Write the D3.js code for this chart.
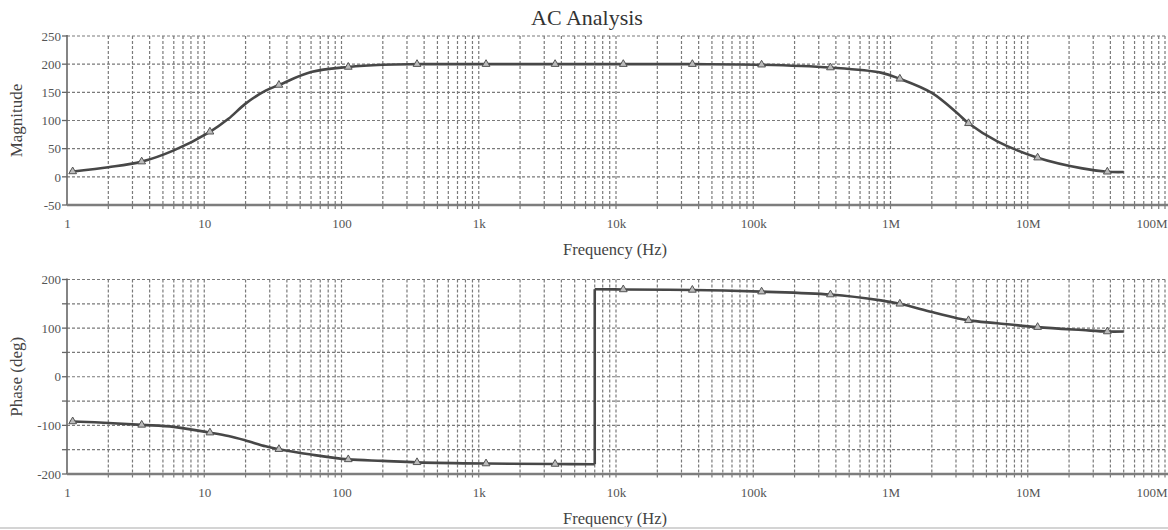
<!DOCTYPE html>
<html>
<head>
<meta charset="utf-8">
<script src="https://cdn.jsdelivr.net/npm/d3@7"></script>
<style>
  html, body { margin: 0; padding: 0; background: #fff; }
  svg { display: block; }
  text { font-family: "Liberation Serif", "DejaVu Serif", serif; }
</style>
</head>
<body>
<svg id="chart" width="1168" height="530"></svg>
<script>
// ---------------- data ----------------
const chartTitle = "AC Analysis";
const freqHz = [1.05, 1.1, 2, 3.5, 6, 11, 15, 20, 28, 35, 60, 112, 200, 355, 1130, 3600, 7000, 7000,
  11300, 36000, 115000, 365000, 850000, 1170000, 2000000, 3100000, 3700000, 6000000, 11800000,
  25000000, 38000000, 50000000];
const magnitude = [9, 9.5, 17, 27, 47, 80, 103, 130, 153, 163, 186, 195, 199, 200, 200, 200, 200, 200,
  200, 200, 199, 194, 185, 174, 149, 112, 95, 63, 34, 15, 9, 8.5];
const phaseDeg = [-92, -92, -95, -99, -103, -115, -122, -131, -143, -149, -160, -170, -173, -176, -178.5, -179.5, -180, 180,
  179.5, 178.5, 175, 169, 157, 150, 133, 120, 116, 110, 102, 96, 93, 93];
const markerFreqs = [1.1, 3.5, 11, 35, 112, 355, 1130, 3600, 11300, 36000, 115000, 365000, 1170000, 3700000, 11800000, 38000000];
const xTickValues = [1, 10, 100, 1e3, 1e4, 1e5, 1e6, 1e7, 1e8];
const xTickLabels = ["1", "10", "100", "1k", "10k", "100k", "1M", "10M", "100M"];
const magTicks = [-50, 0, 50, 100, 150, 200, 250];
const magGrid = [-50, 0, 50, 100, 150, 200, 250];
const phaseTicks = [-200, -100, 0, 100, 200];
const phaseGrid = [-200, -150, -100, -50, 0, 50, 100, 150, 200];
const xLabel = "Frequency (Hz)";
const magLabel = "Magnitude";
const phaseLabel = "Phase (deg)";

// ---------------- drawing ----------------
const svg = d3.select("#chart");
svg.append("rect").attr("width", 1168).attr("height", 530).attr("fill", "#fff");

const x = d3.scaleLog().domain([1, 1e8]).range([67, 1165]);

// minor grid frequencies: 1..9 x each decade
const vGrid = [];
for (let d = 0; d < 8; d++) for (let m = 1; m <= 9; m++) vGrid.push(m * Math.pow(10, d));
vGrid.push(1e8);

svg.append("text").attr("x", 587).attr("y", 25).attr("text-anchor", "middle")
  .attr("font-size", 22).attr("fill", "#333").text(chartTitle);

function panel(cfg) {
  const y = d3.scaleLinear().domain(cfg.domain).range(cfg.range);
  const g = svg.append("g");
  const top = cfg.range[1], bot = cfg.range[0];

  // horizontal grid
  g.selectAll(".hg").data(cfg.grid).join("line")
    .attr("x1", 67).attr("x2", 1165)
    .attr("y1", d => y(d)).attr("y2", d => y(d))
    .attr("stroke", "#7a7a7a").attr("stroke-width", 1.2).attr("stroke-dasharray", "3,2");
  // vertical grid
  g.selectAll(".vg").data(vGrid.filter(v => v > 1)).join("line")
    .attr("x1", d => x(d)).attr("x2", d => x(d))
    .attr("y1", top).attr("y2", bot + 4)
    .attr("stroke", "#7a7a7a").attr("stroke-width", 1.2).attr("stroke-dasharray", "3,2");

  // left axis
  const ya = d3.axisLeft(y).tickValues(cfg.ticks).tickFormat(d => String(d)).tickSize(0).tickPadding(6);
  const yg = g.append("g").attr("transform", "translate(67,0)").call(ya);
  yg.select(".domain").remove();
  yg.selectAll("text").attr("font-family", "Liberation Serif").attr("font-size", 13).attr("fill", "#555");
  g.selectAll(".lt").data(cfg.grid).join("line")
    .attr("x1", 62).attr("x2", 67).attr("y1", d => y(d)).attr("y2", d => y(d))
    .attr("stroke", "#666").attr("stroke-width", 1.3);
  g.append("line").attr("x1", 67).attr("x2", 67).attr("y1", top - 1).attr("y2", bot)
    .attr("stroke", "#666").attr("stroke-width", 1.6);

  // bottom axis
  const xa = d3.axisBottom(x).tickValues(xTickValues)
    .tickFormat((d, i) => xTickLabels[i]).tickSize(0).tickPadding(14);
  const xg = g.append("g").attr("transform", `translate(0,${bot})`).call(xa);
  xg.select(".domain").remove();
  xg.selectAll("text").attr("font-family", "Liberation Serif").attr("font-size", 13).attr("fill", "#555");
  xg.selectAll("text").filter(d => d === 1e8).attr("text-anchor", "end").attr("dx", 2);
  g.append("line").attr("x1", 67).attr("x2", 1168).attr("y1", bot).attr("y2", bot)
    .attr("stroke", "#7d7d7d").attr("stroke-width", 2.4);

  // axis titles
  svg.append("text").attr("x", 615).attr("y", bot + 50).attr("text-anchor", "middle")
    .attr("font-size", 16.5).attr("fill", "#444").text(xLabel);
  svg.append("text").attr("transform", `translate(${cfg.labelX},${(top + bot) / 2}) rotate(-90)`)
    .attr("text-anchor", "middle").attr("font-size", 17).attr("fill", "#444").text(cfg.label);

  // curve: split where frequency repeats (vertical jump)
  const pts = freqHz.map((f, i) => ({ f, v: cfg.values[i] }));
  const segs = [[pts[0]]];
  for (let i = 1; i < pts.length; i++) {
    if (pts[i].f === pts[i - 1].f) segs.push([pts[i]]);
    else segs[segs.length - 1].push(pts[i]);
  }
  const line = d3.line().x(d => x(d.f)).y(d => y(d.v)).curve(d3.curveCatmullRom.alpha(0.5));
  segs.forEach((s, k) => {
    g.append("path").attr("d", line(s)).attr("fill", "none")
      .attr("stroke", "#474747").attr("stroke-width", 2.6).attr("stroke-linejoin", "round");
    if (k > 0) {
      const a = segs[k - 1][segs[k - 1].length - 1], b = s[0];
      g.append("line").attr("x1", x(a.f)).attr("x2", x(b.f)).attr("y1", y(a.v)).attr("y2", y(b.v))
        .attr("stroke", "#474747").attr("stroke-width", 2.6);
    }
  });
  // markers
  const mk = pts.filter(p => markerFreqs.includes(p.f));
  g.selectAll(".mk").data(mk).join("path")
    .attr("d", d3.symbol(d3.symbolTriangle).size(26))
    .attr("transform", d => `translate(${x(d.f)},${y(d.v)})`)
    .attr("fill", "#bbb").attr("stroke", "#555").attr("stroke-width", 1);
}

panel({ domain: [-50, 250], range: [205, 36], ticks: magTicks, grid: magGrid, values: magnitude, label: magLabel, labelX: 22 });
panel({ domain: [-200, 200], range: [474, 279.5], ticks: phaseTicks, grid: phaseGrid, values: phaseDeg, label: phaseLabel, labelX: 22 });

// light bottom border
svg.append("line").attr("x1", 0).attr("x2", 1168).attr("y1", 528).attr("y2", 528)
  .attr("stroke", "#d4d4d4").attr("stroke-width", 2);
</script>
</body>
</html>
